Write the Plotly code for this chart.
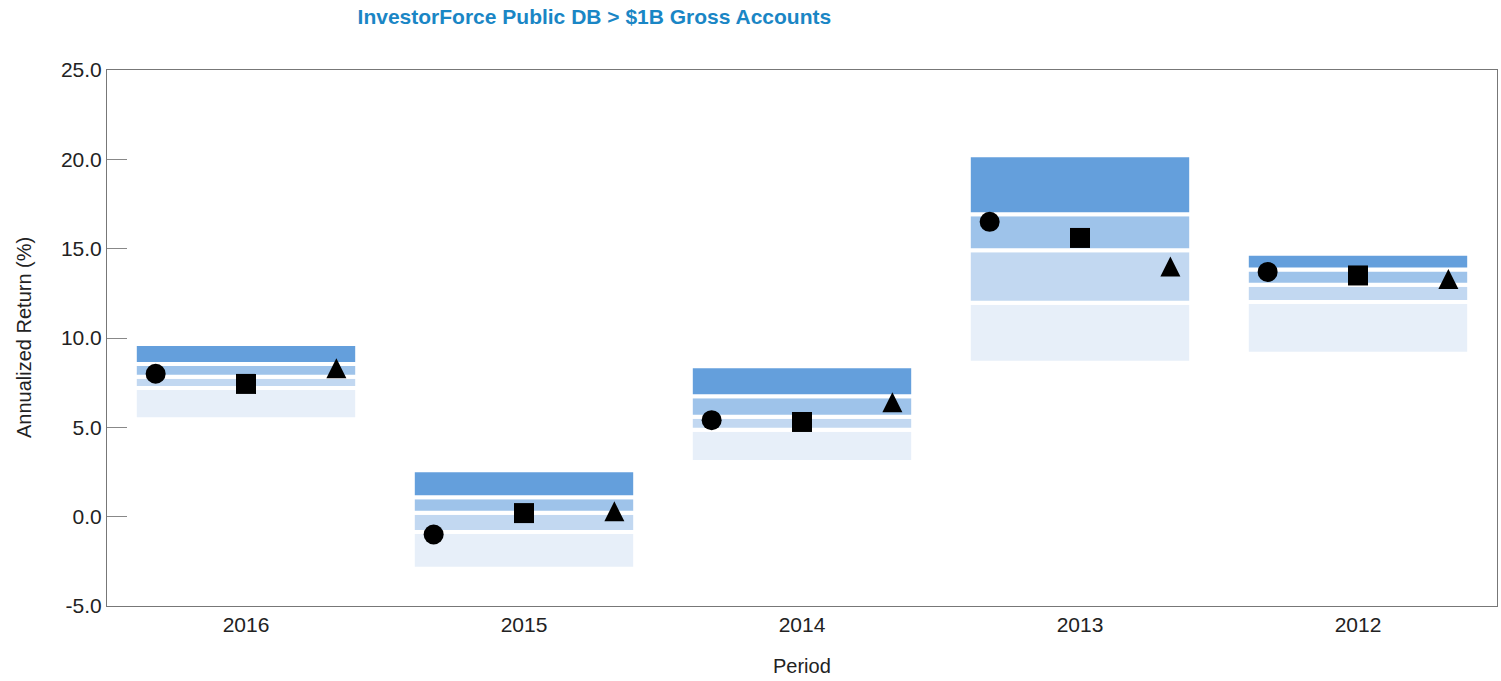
import plotly.graph_objects as go

periods = ["2016", "2015", "2014", "2013", "2012"]

# Universe percentile bands (5th, 25th, median, 75th, 95th)
p95 = [9.67, 2.60, 8.42, 20.23, 14.72]
p75 = [8.54, 1.09, 6.74, 16.93, 13.84]
p50 = [7.83, 0.22, 5.59, 14.91, 12.98]
p25 = [7.20, -0.86, 4.87, 11.97, 12.01]
p5 = [5.45, -2.91, 3.06, 8.62, 9.12]

# Plotted series
circle_vals = [8.0, -1.0, 5.4, 16.5, 13.7]
square_vals = [7.43, 0.2, 5.3, 15.6, 13.5]
triangle_vals = [8.3, 0.3, 6.4, 14.0, 13.3]

y_tick_vals = [-5, 0, 5, 10, 15, 20, 25]
y_tick_text = ["-5.0", "0.0", "5.0", "10.0", "15.0", "20.0", "25.0"]

xs = list(range(len(periods)))

band_colors = ["#E7EFF9", "#C2D8F1", "#9EC3EA", "#649FDC"]
lows = [p5, p25, p50, p75]
highs = [p25, p50, p75, p95]

fig = go.Figure()
for lo, hi, col in zip(lows, highs, band_colors):
    fig.add_trace(go.Bar(
        x=xs, base=lo, y=[h - l for h, l in zip(hi, lo)],
        width=0.8, marker=dict(color=col, line=dict(color="white", width=4)),
        showlegend=False, hoverinfo="skip"))

off = 0.325
fig.add_trace(go.Scatter(
    x=[i - off for i in xs], y=circle_vals, mode="markers",
    marker=dict(symbol="circle", size=20, color="black"), showlegend=False))
fig.add_trace(go.Scatter(
    x=xs, y=square_vals, mode="markers",
    marker=dict(symbol="square", size=20, color="black"), showlegend=False))
fig.add_trace(go.Scatter(
    x=[i + off for i in xs], y=triangle_vals, mode="markers",
    marker=dict(symbol="arrow-down", angle=180, standoff=10, size=20, color="black"),
    showlegend=False))

regular = "Liberation Sans, Arial, sans-serif"

fig.update_layout(
    width=1501, height=681,
    paper_bgcolor="white", plot_bgcolor="white",
    margin=dict(l=107, r=4, t=70, b=75),
    barmode="overlay",
    title=dict(text="<b>InvestorForce Public DB > $1B Gross Accounts</b>",
               x=0.396, xanchor="center", y=1 - 17 / 681, yanchor="middle",
               font=dict(family=regular, size=21, color="#1A86C5")),
    xaxis=dict(range=[-0.5, 4.5], tickvals=xs, ticktext=periods,
               showgrid=False, zeroline=False, showline=True, linecolor="#777777",
               linewidth=1, mirror=True, ticks="",
               tickfont=dict(family=regular, size=21, color="#222222")),
    yaxis=dict(range=[-5, 25], tickvals=y_tick_vals, ticktext=y_tick_text,
               showgrid=False, zeroline=False, showline=True, linecolor="#777777",
               linewidth=1, mirror=True, ticks="inside", ticklen=20, tickcolor="#888888",
               tickfont=dict(family=regular, size=21, color="#222222")),
    annotations=[
        dict(text="Annualized Return (%)", xref="paper", yref="paper",
             x=-(107 - 24) / 1390, y=0.5, xanchor="center", yanchor="middle",
             textangle=-90, showarrow=False,
             font=dict(family=regular, size=20, color="#222222")),
        dict(text="Period", xref="paper", yref="paper",
             x=0.5, y=-60 / 536, xanchor="center", yanchor="middle",
             showarrow=False, font=dict(family=regular, size=20, color="#222222")),
    ],
)

fig.write_html("out.html", config={"displayModeBar": False},
               post_script="document.body.style.margin='0';document.body.style.overflow='hidden';")
